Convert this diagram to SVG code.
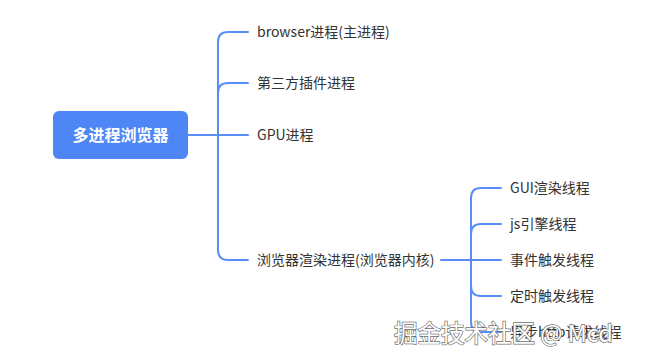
<svg xmlns="http://www.w3.org/2000/svg" width="646" height="363" viewBox="0 0 646 363">
<style>
.lbl{font-family:"Noto Sans CJK SC","Noto Sans",sans-serif;font-size:14px;fill:#333333;}
.root{font-family:"Noto Sans CJK SC","Noto Sans",sans-serif;font-size:16px;font-weight:bold;fill:#ffffff;}
.edge{fill:none;stroke:#5a8ef7;stroke-width:2;stroke-linecap:round;}
.wm{font-family:"Noto Sans CJK SC","Noto Sans",sans-serif;font-size:23.5px;fill:#ffffff;stroke:#707070;stroke-width:1.4;paint-order:stroke;}
</style>
<rect width="646" height="363" fill="#ffffff"/>
<g id="connectors">
<path class="edge" d="M188 135 H248"/>
<path class="edge" d="M248 32 H228 Q218 32 218 42 V250 Q218 260 228 260 H248"/>
<path class="edge" d="M248 83 H228 Q218 83 218 93"/>
<path class="edge" d="M441 260 H501"/>
<path class="edge" d="M501 188 H481 Q471 188 471 198 V322 Q471 332 481 332 H501"/>
<path class="edge" d="M501 224 H481 Q471 224 471 234"/>
<path class="edge" d="M501 296 H481 Q471 296 471 286"/>
</g>
<g id="root">
<rect x="53" y="111" width="135" height="48" rx="6" fill="#4e86f5"/>
<text class="root" x="120.5" y="141" text-anchor="middle">多进程浏览器</text>
</g>
<g id="n1"><text class="lbl" x="257" y="37">browser进程(主进程)</text></g>
<g id="n2"><text class="lbl" x="257" y="88">第三方插件进程</text></g>
<g id="n3"><text class="lbl" x="257" y="140">GPU进程</text></g>
<g id="n4"><text class="lbl" x="257" y="265">浏览器渲染进程(浏览器内核)</text></g>
<g id="n5"><text class="lbl" x="510" y="193">GUI渲染线程</text></g>
<g id="n6"><text class="lbl" x="510" y="229">js引擎线程</text></g>
<g id="n7"><text class="lbl" x="510" y="265">事件触发线程</text></g>
<g id="n8"><text class="lbl" x="510" y="301">定时触发线程</text></g>
<g id="n9"><text class="lbl" x="510" y="337">异步http请求线程</text></g>
<text class="wm" x="394" y="342">掘金技术社区 @ Mcd</text>
</svg>
